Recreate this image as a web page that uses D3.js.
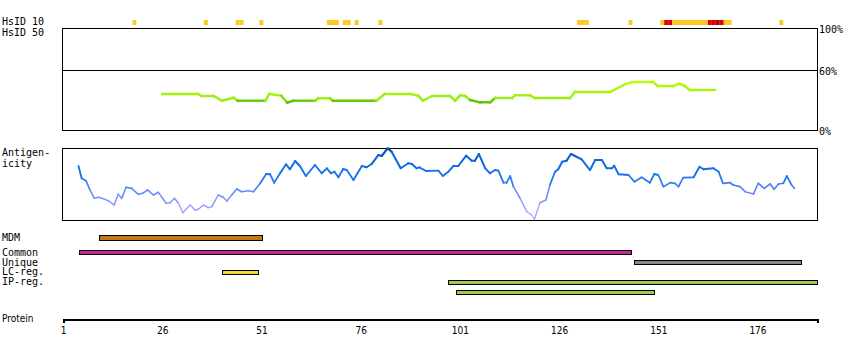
<!DOCTYPE html>
<html><head><meta charset="utf-8">
<script src="https://cdn.jsdelivr.net/npm/d3@7"></script>
<style>
body{margin:0;background:#fff}
svg{display:block}
.lab{font-family:"DejaVu Sans Mono",monospace;font-size:10px;fill:#000}
.nar{font-family:"Liberation Sans Narrow","DejaVu Sans Condensed","DejaVu Sans",sans-serif;font-stretch:condensed;font-size:10px;fill:#000}
</style>
</head><body><svg id="c" width="850" height="360"></svg>
<script>
// ---------- data ----------
const proteinLength = 191;
const axisTicks = [1, 26, 51, 76, 101, 126, 151, 176];
const pctTicks = [100, 60, 0];

const hsid10Residues = [19,37,45,46,51,68,69,70,72,73,75,81,131,132,133,144,152,153,154,155,156,157,158,159,160,161,162,163,164,165,166,167,168,169,182];
const hsid10Levels   = [1,1,1,1,1,1,1,1,1,1,1,1,1,1,1,1,1,2,2,1,1,1,1,1,1,1,1,1,2,2,3,2,1,1,1];

const hsid50Pos = [26,35,36,39,41,44,45,52,53,56,57.5,59,64.5,65.3,68.3,69,80,82,88.5,90.5,91.7,94,98.5,99.8,101.1,102.3,103.6,106.1,108.6,109.9,114.2,114.9,118.7,119.9,128.8,130,138.9,142.6,144.6,149.7,150.9,154.7,156.2,157.7,159,165.3];
const hsid50Val = [36,36,34,34,29.3,32.3,29.3,29.3,36,34.3,27.3,29.3,29.3,31.7,31.7,29.3,29.3,36,36,34.3,29.3,34,34,29.3,34.7,34,30,27.7,27.7,32,32,34.7,34.7,32,32,38,38,45.7,48,48,44,44,46.3,44,40,40];

const antigenPos = [4.9,5.7,6.8,7.8,8.9,9.9,11.2,12.4,13.9,14.9,15.8,16.9,18.3,20.0,21.1,22.3,23.8,25.0,27.0,28.0,29.1,30.1,31.2,33.0,34.3,35.1,36.4,37.6,38.5,40.1,41.4,42.3,43.5,44.8,46.0,47.7,49.0,50.7,52.2,53.2,54.2,55.7,57.2,58.2,59.5,60.7,62.2,64.5,66.2,67.5,68.5,69.4,70.4,71.6,72.5,74.2,76.3,77.5,78.8,80.5,81.3,82.8,83.8,86.1,88.0,88.9,90.1,90.8,92.5,95.6,
 96.7,98.1,99.4,100.6,102.6,104.0,104.8,105.8,107.4,108.6,109.9,110.7,112.0,112.8,113.7,114.5,116.2,117.9,119.1,119.8,121.2,122.7,123.7,125.0,125.8,126.8,127.9,129.0,130.0,131.7,133.8,135.1,136.8,138.0,139.3,139.9,141.0,143.5,145.0,146.8,148.9,150.0,151.0,152.3,154.0,155.2,156.1,157.3,159.9,161.4,162.4,164.9,166.2,167.3,169.1,169.9,171.6,172.9,175.0,176.2,177.7,179.2,180.2,181.3,182.5,183.4,184.6,185.3];
const antigenVal = [75.0,57.9,54.6,41.7,30.1,31.5,29.6,26.8,20.8,35.7,30.1,45.4,44.0,35.7,37.1,41.7,34.7,38.5,23.2,24.0,30.1,23.2,10.1,20.8,13.9,14.9,20.8,17.1,18.5,34.7,31.5,26.4,34.7,43.1,39.3,40.7,39.3,51.0,63.9,63.5,51.8,64.9,77.4,70.4,81.9,75.0,61.1,76.4,64.9,71.8,64.9,67.1,59.3,70.8,69.4,55.6,75.0,73.2,77.8,90.3,88.9,99.6,94.9,71.8,78.8,77.8,71.8,73.2,68.1,68.5,
 61.1,67.1,75.0,75.0,89.3,82.4,82.4,91.7,71.8,64.9,69.4,68.5,51.8,51.8,61.1,46.3,30.1,11.5,6.9,1.0,24.0,27.8,48.6,67.1,70.4,81.0,82.4,91.7,88.9,84.3,69.4,83.3,83.3,71.8,71.8,75.4,63.5,62.5,53.2,59.3,51.8,63.9,62.5,46.3,51.8,51.0,46.3,58.8,59.3,74.0,70.4,71.8,67.1,51.0,51.8,48.6,46.3,39.3,36.1,51.0,44.0,50.0,42.6,50.0,51.0,61.1,48.6,44.0];

const laneNames = ["MDM", "Common", "Unique", "LC-reg.", "IP-reg."];
const featureLane  = ["MDM", "Common", "Unique", "LC-reg.", "IP-reg.", "IP-reg.2"];
const featureStart = [10, 5, 145, 41, 98, 100];
const featureEnd   = [51, 144, 187, 50, 191, 150];
const featureColor = ["#c47a12", "#cc22a0", "#888888", "#f0d830", "#9fc94f", "#9fc94f"];

// ---------- drawing ----------
const svg = d3.select("#c");
const x = d3.scaleLinear().domain([1, proteinLength]).range([63, 817]);
const L = 62, R = 817;

// HsID 10
const lvlColor = d3.scaleOrdinal().domain([1, 2, 3]).range(["#ffc820", "#e00000", "#aa0000"]);
svg.append("g").selectAll("rect").data(hsid10Residues).join("rect")
  .attr("x", d => x(d - 0.5)).attr("width", d => x(d + 0.5) - x(d - 0.5))
  .attr("y", 20).attr("height", 5)
  .attr("fill", (d, i) => lvlColor(hsid10Levels[i]));

svg.append("text").attr("class", "lab").attr("x", 2).attr("y", 25).text("HsID 10");
svg.append("text").attr("class", "lab").attr("x", 2).attr("y", 36).text("HsID 50");

// HsID 50 panel
const yP = d3.scaleLinear().domain([0, 60, 100]).range([130, 70, 28]);
const g50 = svg.append("g").attr("shape-rendering", "crispEdges");
g50.append("rect").attr("x", L + 0.5).attr("y", yP(100) + 0.5).attr("width", R - L).attr("height", yP(0) - yP(100))
  .attr("fill", "none").attr("stroke", "#000");
g50.append("line").attr("x1", L).attr("x2", R).attr("y1", yP(60) + 0.5).attr("y2", yP(60) + 0.5).attr("stroke", "#000");
svg.append("g").selectAll("text").data(pctTicks).join("text").attr("class", "lab")
  .attr("x", 819).attr("y", d => yP(d) + 5).text(d => d + "%");

const c50 = d3.scaleLinear().domain([27, 29.6, 30.5, 48]).range(["#55bb00", "#66cc00", "#99ee11", "#b4ff00"]).clamp(true);
const seg50 = d3.range(hsid50Pos.length - 1);
svg.append("g").selectAll("line").data(seg50).join("line")
  .attr("x1", i => x(hsid50Pos[i])).attr("y1", i => yP(hsid50Val[i]))
  .attr("x2", i => x(hsid50Pos[i + 1])).attr("y2", i => yP(hsid50Val[i + 1]))
  .attr("stroke", i => c50(Math.min(hsid50Val[i], hsid50Val[i + 1]) + 0.4 * Math.abs(hsid50Val[i] - hsid50Val[i + 1])))
  .attr("stroke-width", 2.4).attr("stroke-linecap", "square");

// Antigenicity panel
const yA = d3.scaleLinear().domain([0, 100]).range([220, 148]);
svg.append("rect").attr("shape-rendering", "crispEdges").attr("x", L + 0.5).attr("y", yA(100) + 0.5)
  .attr("width", R - L).attr("height", yA(0) - yA(100)).attr("fill", "none").attr("stroke", "#000");
svg.append("text").attr("class", "lab").attr("x", 2).attr("y", 156).text("Antigen-");
svg.append("text").attr("class", "lab").attr("x", 2).attr("y", 167).text("icity");

const cA = d3.scaleLinear().domain([0, 20, 40, 60, 85, 100]).range(["#bbaaff", "#9999ff", "#6688ff", "#1a77ee", "#0a66dd", "#004c99"]);
const wA = d3.scaleLinear().domain([0, 100]).range([1.2, 2.2]);
const segA = d3.range(antigenPos.length - 1);
svg.append("g").selectAll("line").data(segA).join("line")
  .attr("x1", i => x(antigenPos[i])).attr("y1", i => yA(antigenVal[i]))
  .attr("x2", i => x(antigenPos[i + 1])).attr("y2", i => yA(antigenVal[i + 1]))
  .attr("stroke", i => cA((antigenVal[i] + antigenVal[i + 1]) / 2))
  .attr("stroke-width", i => wA((antigenVal[i] + antigenVal[i + 1]) / 2)).attr("stroke-linecap", "round");

// Features
const laneY = d3.scaleOrdinal().domain(["MDM", "Common", "Unique", "LC-reg.", "IP-reg.", "IP-reg.2"]).range([235, 250, 260, 270, 280, 290]);
const laneH = d3.scaleOrdinal().domain(["MDM"]).range([5]).unknown(4);
svg.append("g").attr("shape-rendering", "crispEdges").selectAll("rect").data(d3.range(featureLane.length)).join("rect")
  .attr("x", i => Math.round(x(featureStart[i])) + 0.5)
  .attr("width", i => Math.round(x(featureEnd[i]) - x(featureStart[i])))
  .attr("y", i => laneY(featureLane[i]) + 0.5)
  .attr("height", i => laneH(featureLane[i]))
  .attr("fill", i => featureColor[i]).attr("stroke", "#000");
svg.append("g").selectAll("text").data(laneNames).join("text").attr("class", "lab")
  .attr("x", 2).attr("y", (d, i) => [241, 256, 265.5, 275, 285][i]).text(d => d);

// Protein axis
const ax = d3.axisBottom(x).tickValues(axisTicks).tickSizeInner(0).tickSizeOuter(4).tickPadding(8).tickFormat(d3.format("d"));
const ag = svg.append("g").attr("transform", "translate(0,319)").call(ax);
ag.select(".domain").attr("stroke-width", 2).attr("shape-rendering", "crispEdges");
ag.selectAll("text").attr("class", "nar").attr("font-family", null).attr("font-size", null).attr("fill", "#000");
svg.append("text").attr("class", "nar").attr("x", 2).attr("y", 322).text("Protein");
</script>
</body></html>
